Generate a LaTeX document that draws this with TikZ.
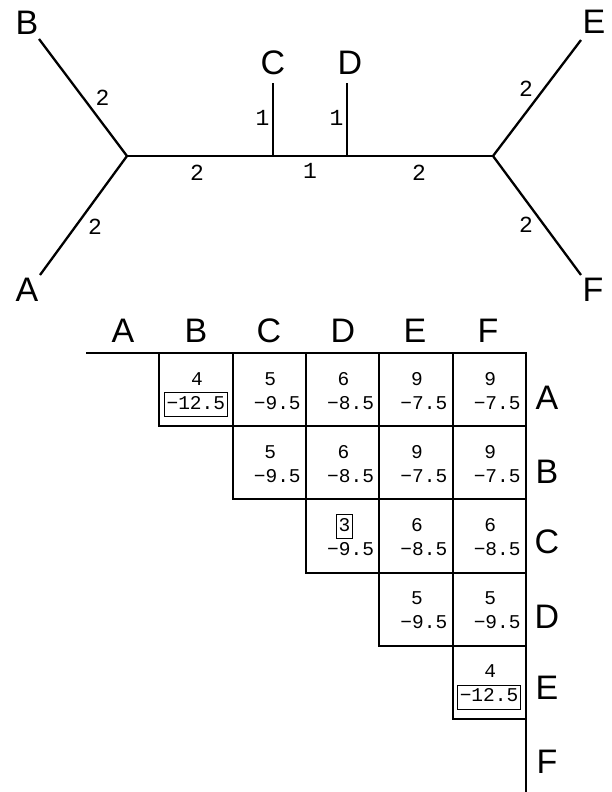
\documentclass[tikz,border=0pt]{standalone}
\usepackage{fontspec}
\setmainfont{Liberation Sans}
\newfontfamily\monofont{Liberation Mono}
\begin{document}
\begin{tikzpicture}[x=1pt,y=-1pt,
  big/.style={font=\fontsize{34}{40}\selectfont, inner sep=0pt},
  elab/.style={font=\monofont\fontsize{23}{27}\selectfont, inner sep=0pt},
  num/.style={font=\monofont\fontsize{19.5}{23}\selectfont, inner sep=0pt},
  boxed/.style={num, draw, line width=1pt, inner xsep=2.5pt, inner ysep=2pt, text height=14.5pt, text depth=5.5pt},
  cell/.style={draw, line width=2pt, minimum width=73.3pt, minimum height=73.2pt, inner sep=0pt, outer sep=0pt, anchor=north west},
  branch/.style={line width=2.3pt},
  tbl/.style={line width=2pt}]
\useasboundingbox (0,0) rectangle (612,792);
% ---------- tree ----------
\coordinate (J1) at (127,156);
\coordinate (J2) at (493,156);
\coordinate (Cb) at (273,156);
\coordinate (Db) at (347,156);
\coordinate (Be) at (39,39);
\coordinate (Ae) at (40,275);
\coordinate (Ct) at (273,83);
\coordinate (Dt) at (347,83);
\coordinate (Ee) at (581,40);
\coordinate (Fe) at (581,275);
\draw[branch] (Be) -- (J1) -- (Ae);
\draw[branch] (J1) -- (J2);
\draw[branch] (Ee) -- (J2) -- (Fe);
\draw[branch] (Cb) -- (Ct);
\draw[branch] (Db) -- (Dt);
\node[big] (lB) at (27,23) {B};
\node[big] (lA) at (27,290) {A};
\node[big] (lC) at (273,63) {C};
\node[big] (lD) at (350,63) {D};
\node[big] (lE) at (594,22) {E};
\node[big] (lF) at (593,290) {F};
\node[elab] (eB) at (102.5,98) {2};
\node[elab] (eA) at (95,227) {2};
\node[elab] (eH1) at (197,173) {2};
\node[elab] (eC) at (262.5,117.5) {1};
\node[elab] (eD) at (336.5,117.5) {1};
\node[elab] (eH2) at (310,171) {1};
\node[elab] (eH3) at (419,173) {2};
\node[elab] (eE) at (526,89) {2};
\node[elab] (eF) at (526,225) {2};
% ---------- table ----------
\coordinate (tl) at (86,353);
\coordinate (tr) at (525.8,353);
\coordinate (br) at (525.8,792);
\foreach \i/\j/\t/\b/\f in {0/1/4/12.5/2, 0/2/5/9.5/0, 0/3/6/8.5/0, 0/4/9/7.5/0, 0/5/9/7.5/0,
  1/2/5/9.5/0, 1/3/6/8.5/0, 1/4/9/7.5/0, 1/5/9/7.5/0,
  2/3/3/9.5/1, 2/4/6/8.5/0, 2/5/6/8.5/0,
  3/4/5/9.5/0, 3/5/5/9.5/0,
  4/5/4/12.5/2}{
  \pgfmathsetmacro{\lx}{86+73.3*\j}
  \pgfmathsetmacro{\cx}{\lx+36.65+1}
  \pgfmathsetmacro{\rx}{\lx+73.3}
  \pgfmathsetmacro{\ty}{353+73.2*\i}
  \pgfmathsetmacro{\tb}{\ty+32}
  \pgfmathsetmacro{\bb}{\ty+56}
  \node[cell] (cell-\i-\j) at (\lx,\ty) {};
  \ifnum\f=1
    \node[boxed, anchor=base] (t-\i-\j) at (\cx+1,\tb) {\t};
  \else
    \node[num, anchor=base] (t-\i-\j) at (\cx,\tb) {\t};
  \fi
  \ifnum\f=2
    \node[boxed, anchor=base east] (b-\i-\j) at (\rx-4.5,\bb) {−\b};
  \else
    \node[num, anchor=base east] (b-\i-\j) at (\rx-5,\bb) {−\b};
  \fi
}
\draw[tbl] (tl) -- (tr) -- (br);
\foreach \n/\x in {A/123, B/196, C/269, D/343, E/415, F/488}{
  \node[big] (h-\n) at (\x,331) {\n};
}
\foreach \n/\y in {A/398, B/472, C/542, D/617, E/688, F/762}{
  \node[big] (r-\n) at (547,\y) {\n};
}
\end{tikzpicture}
\end{document}
